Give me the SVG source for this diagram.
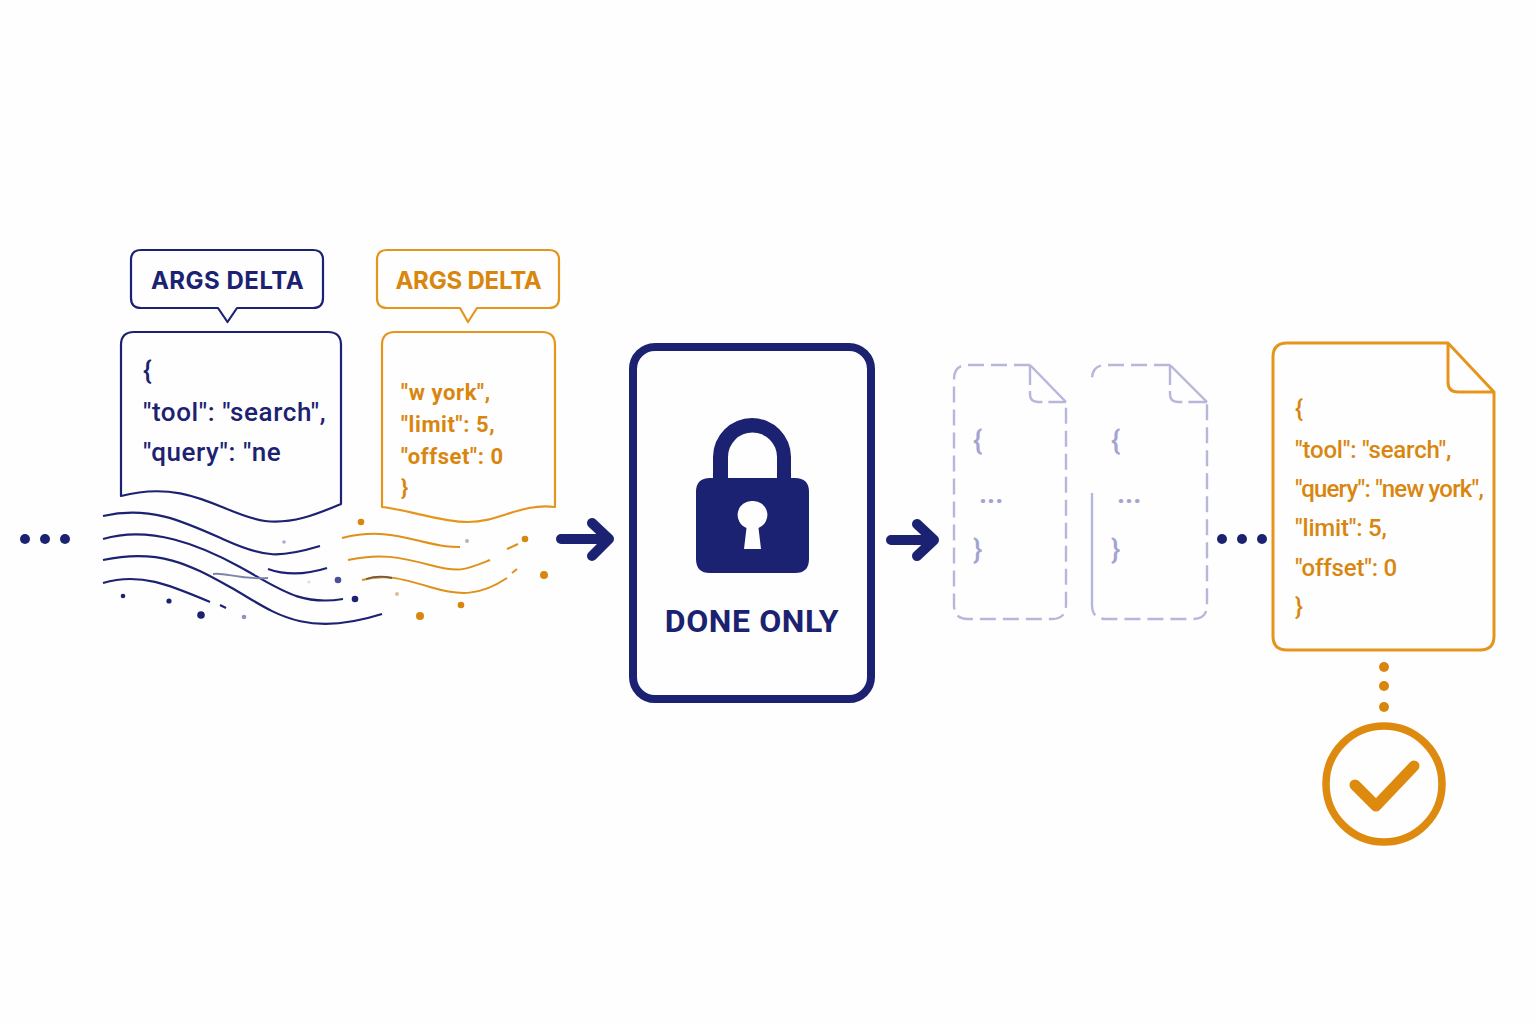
<svg xmlns="http://www.w3.org/2000/svg" width="1536" height="1024" viewBox="0 0 1536 1024">
<defs><style>
.f{font-family:"Inter","Liberation Sans",sans-serif}
.r{font-family:"Roboto","Liberation Sans",sans-serif}
.n{fill:#1c2272}.o{fill:#d9860f}.g{fill:#a3a5d0}
.ln{fill:none;stroke:#1c2272;stroke-width:2.2;stroke-linecap:round;stroke-linejoin:round}
.lo{fill:none;stroke:#e6951c;stroke-width:2.2;stroke-linecap:round;stroke-linejoin:round}
.lf{fill:none;stroke:#e6951c;stroke-width:3;stroke-linecap:round;stroke-linejoin:round}
.w{fill:none;stroke:#1c2272;stroke-width:2.2;stroke-linecap:butt}
.wo{fill:none;stroke:#e09018;stroke-width:2;stroke-linecap:butt}
.ar{fill:none;stroke:#1c2272;stroke-width:10;stroke-linecap:round;stroke-linejoin:round}
.gh{fill:none;stroke:#b6b7da;stroke-width:2.400;stroke-dasharray:16 7}
.gd{fill:none;stroke:#b6b7da;stroke-width:2.400;stroke-dasharray:20 6}
.gs{fill:none;stroke:#b6b7da;stroke-width:2.400}
.lb{font-size:24px;font-weight:700}
.t1{font-size:26px;font-weight:500;letter-spacing:.6px}
.t2{font-size:22px;font-weight:700;letter-spacing:.6px}
.t3{font-size:24px;font-weight:500;letter-spacing:-.2px}
.b{font-size:28px;font-weight:500}
.d{font-size:28px;font-weight:700}
</style></defs>
<rect width="1536" height="1024" fill="#fefefe"/>
<g id="dots-left" class="n"><circle cx="25" cy="539" r="5"/><circle cx="45" cy="539" r="5"/><circle cx="65" cy="539" r="5"/></g>
<g id="bubble-navy">
<path class="ln" d="M141 250H313Q323 250 323 260V298Q323 308 313 308H237L227.5 322L218 308H141Q131 308 131 298V260Q131 250 141 250Z"/>
<text class="f n lb" x="227.500" y="289" text-anchor="middle" letter-spacing=".5">ARGS DELTA</text>
</g>
<g id="bubble-orange">
<path class="lo" d="M387 250H549Q559 250 559 260V298Q559 308 549 308H477L468 322L460 308H387Q377 308 377 298V260Q377 250 387 250Z"/>
<text class="f o lb" x="468.500" y="289" text-anchor="middle" letter-spacing="-.2">ARGS DELTA</text>
</g>
<g id="chunk-navy">
<path class="ln" d="M121 496V345Q121 332 134 332H328Q341 332 341 345V504C315 515 292 524 265 521C225 516 190 478 121 496Z"/>
<text class="r n t1" x="143" y="379">{</text>
<text class="r n t1" x="143" y="421">"tool": "search",</text>
<text class="r n t1" x="143" y="461">"query": "ne</text>
</g>
<g id="chunk-orange">
<path class="lo" d="M382 507V345Q382 332 395 332H542Q555 332 555 345V507C520 503 500 522 468 522C440 522 410 510 382 507Z"/>
<text class="r o t2" x="401" y="400">"w york",</text>
<text class="r o t2" x="401" y="432">"limit": 5,</text>
<text class="r o t2" x="401" y="464">"offset": 0</text>
<text class="r o t2" x="401" y="495">}</text>
</g>
<g id="stream">
<path class="w" d="M103 516C150 505 185 522 225 540S280 558 320 546"/>
<path class="w" d="M103 539C150 525 200 545 240 567S300 606 343 599"/>
<path class="w" d="M103 560C160 548 190 565 230 587S300 640 382 614"/>
<path class="w" d="M103 583C140 572 170 585 210 602"/>
<path class="w" d="M268 569C285 575 305 575 327 568"/>
<path fill="none" stroke="#7f82ad" stroke-width="1.800" d="M213 574C225 572 240 580 268 578"/>
<path class="w" d="M220 605L226 608"/>
<path class="wo" d="M342 538C375 530 395 535 420 541S450 547 460 547"/>
<path class="wo" d="M348 560C380 553 400 557 430 565S465 570 490 560"/>
<path class="wo" d="M362 580C385 574 400 578 430 587S480 596 507 578"/>
<path fill="none" stroke="#6e5a46" stroke-width="1.800" d="M366 579C375 576 383 576 392 578"/>
<path class="wo" d="M507 549L518 544M512 573L517 569"/>
<g class="n"><circle cx="123" cy="596" r="2.300"/><circle cx="169" cy="601" r="2.600"/><circle cx="201" cy="615" r="3.800"/><circle cx="355" cy="599" r="3.300"/></g>
<circle cx="244" cy="617" r="2.300" fill="#8f92c4"/><circle cx="284" cy="542" r="1.800" fill="#a9abd2"/><circle cx="338" cy="580" r="3.300" fill="#4a4f96"/><circle cx="309" cy="582" r="1.600" fill="#dcdcee"/>
<g class="o"><circle cx="361" cy="522" r="3.300"/><circle cx="525" cy="539" r="3.300"/><circle cx="544" cy="575" r="4"/><circle cx="461" cy="605" r="3.300"/><circle cx="420" cy="616" r="4"/></g>
<circle cx="397" cy="594" r="2" fill="#e0bb94"/><circle cx="467" cy="541" r="2" fill="#b9b4b4"/>
</g>
<g id="connectors">
<path class="ar" d="M561 539H608M592 523L609 539L592 556"/>
<path class="ar" d="M891 540H933M917 524L934 540L917 556"/>
</g>
<g id="lock-card">
<rect x="633" y="347" width="238" height="352" rx="22" fill="none" stroke="#1c2272" stroke-width="8"/>
<path class="n" d="M713 480V457A39 39 0 0 1 791 457V480H777V457A24.500 24.500 0 0 0 728 457V480Z"/>
<path class="n" fill-rule="evenodd" d="M710 478H795Q809 478 809 492V559Q809 573 795 573H710Q696 573 696 559V492Q696 478 710 478ZM752.500 501A14 14 0 0 0 746.500 528L744 549H761L758.500 528A14 14 0 0 0 752.500 501Z"/>
<text class="r n" x="752" y="632" font-size="32" font-weight="700" text-anchor="middle" letter-spacing=".6">DONE ONLY</text>
</g>
<g id="ghost-doc-1">
<path class="gh" d="M1030 365H968Q954 365 954 379V605Q954 619 968 619H1052Q1066 619 1066 605V402"/>
<path class="gs" d="M1030 365L1066 402"/>
<path class="gd" d="M1030 365V394Q1030 402 1038 402H1066"/>
<text class="r g b" x="973" y="450">{</text>
<text class="r g d" x="979" y="503">...</text>
<text class="r g b" x="973" y="559">}</text>
</g>
<g id="ghost-doc-2">
<path class="gh" d="M1170 365H1106Q1092 365 1092 379"/>
<path class="gs" d="M1092 493V600"/>
<path class="gh" d="M1092 600V605Q1092 619 1106 619H1193Q1207 619 1207 605V402"/>
<path class="gs" d="M1170 365L1207 402"/>
<path class="gd" d="M1170 365V394Q1170 402 1178 402H1207"/>
<text class="r g b" x="1111" y="450">{</text>
<text class="r g d" x="1117" y="503">...</text>
<text class="r g b" x="1111" y="559">}</text>
</g>
<g id="dots-right" class="n"><circle cx="1222" cy="539" r="5"/><circle cx="1242" cy="539" r="5"/><circle cx="1262" cy="539" r="5"/></g>
<g id="final-doc">
<path class="lf" d="M1448 343H1287Q1273 343 1273 357V636Q1273 650 1287 650H1480Q1494 650 1494 636V392L1448 343V382Q1448 392 1458 392H1494"/>
<text class="r o t3" x="1295" y="417">{</text>
<text class="r o t3" x="1295" y="458">"tool": "search",</text>
<text class="r o t3" x="1295" y="497" style="letter-spacing:-.8px">"query": "new york",</text>
<text class="r o t3" x="1295" y="536">"limit": 5,</text>
<text class="r o t3" x="1295" y="576">"offset": 0</text>
<text class="r o t3" x="1295" y="615">}</text>
</g>
<g id="check">
<g class="o"><circle cx="1384" cy="667" r="5"/><circle cx="1384" cy="686" r="5"/><circle cx="1384" cy="707" r="5"/></g>
<circle cx="1384" cy="784" r="58" fill="none" stroke="#dd8a0e" stroke-width="7.500"/>
<path d="M1355 785L1376 806L1414 766" fill="none" stroke="#dd8a0e" stroke-width="11" stroke-linecap="round" stroke-linejoin="round"/>
</g>
</svg>
